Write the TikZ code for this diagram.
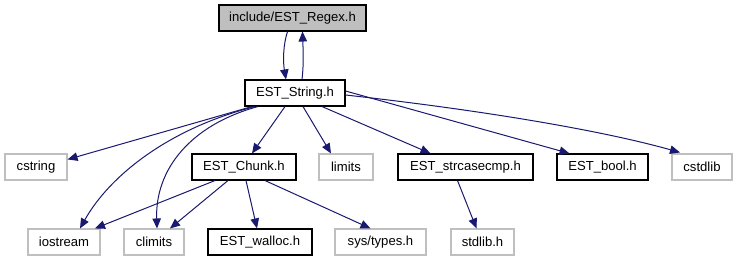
\documentclass[tikz,border=0pt]{standalone}
\usepackage{fontspec}
\setmainfont{Liberation Sans}
\usetikzlibrary{arrows.meta}
\definecolor{edgeblue}{HTML}{191970}
\definecolor{boxgray}{HTML}{BFBFBF}
\begin{document}
\begin{tikzpicture}[x=1pt,y=-1pt,
  hdr/.style={draw=black,line width=1.1pt,inner sep=0pt,minimum height=26pt,
    font=\fontsize{13.1}{15}\selectfont,text=black},
  sys/.style={hdr,draw=boxgray},
  main/.style={hdr,fill=boxgray},
  dep/.style={draw=edgeblue,line width=1pt,-{Triangle[length=10pt,width=8.5pt]}}]
\useasboundingbox (0,0) rectangle (738,261);
% header files
\node[main,minimum width=147pt] (regex) at (292.5,18) {include/EST\_Regex.h};
\node[hdr,minimum width=100pt] (string) at (295,93) {EST\_String.h};
\node[sys,minimum width=62pt] (cstring) at (36,167) {cstring};
\node[hdr,minimum width=104pt] (chunk) at (244,167) {EST\_Chunk.h};
\node[sys,minimum width=54pt] (limits) at (346,167) {limits};
\node[hdr,minimum width=135pt] (strcase) at (465.5,167) {EST\_strcasecmp.h};
\node[hdr,minimum width=91pt] (bool) at (602.5,167) {EST\_bool.h};
\node[sys,minimum width=60pt] (cstdlib) at (702,167) {cstdlib};
\node[sys,minimum width=72pt] (iostream) at (64,242) {iostream};
\node[sys,minimum width=60pt] (climits) at (154,242) {climits};
\node[hdr,minimum width=104pt] (walloc) at (260,242) {EST\_walloc.h};
\node[sys,minimum width=91pt] (systypes) at (380.5,242) {sys/types.h};
\node[sys,minimum width=63pt] (stdlib) at (482.5,242) {stdlib.h};
% include dependencies
\draw[dep] ([xshift=-5pt]regex.south) .. controls (283,45) and (283,62) .. ([xshift=-9pt]string.north);
\draw[dep] ([xshift=7pt]string.north) .. controls (304,62) and (303,48) .. ([xshift=10pt]regex.south);
\draw[dep] ([xshift=-43pt]string.south) -- ([yshift=-6pt]cstring.north east);
\draw[dep] ([xshift=-40pt]string.south) .. controls (170,128) and (110,175) .. ([xshift=16pt]iostream.north);
\draw[dep] ([xshift=-37pt]string.south) .. controls (190,125) and (155,170) .. ([xshift=3pt]climits.north);
\draw[dep] ([xshift=-10pt]string.south) -- ([xshift=8pt]chunk.north);
\draw[dep] ([xshift=8pt]string.south) -- ([xshift=-15pt]limits.north);
\draw[dep] ([xshift=27pt]string.south) -- ([xshift=-35pt]strcase.north);
\draw[dep] ([yshift=2pt]string.east) -- ([xshift=-33pt]bool.north);
\draw[dep] ([yshift=-2pt]string.east) .. controls (480,110) and (600,130) .. ([xshift=-22pt,yshift=1pt]cstdlib.north);
\draw[dep] ([xshift=-29pt]chunk.south) -- ([xshift=31pt]iostream.north);
\draw[dep] ([xshift=-16pt]chunk.south) -- ([xshift=16pt]climits.north);
\draw[dep] ([xshift=2pt]chunk.south) -- ([xshift=-3pt]walloc.north);
\draw[dep] ([xshift=21pt]chunk.south) -- ([xshift=-10pt]systypes.north);
\draw[dep] ([xshift=-8pt]strcase.south) -- ([xshift=-6pt]stdlib.north);
\end{tikzpicture}
\end{document}
